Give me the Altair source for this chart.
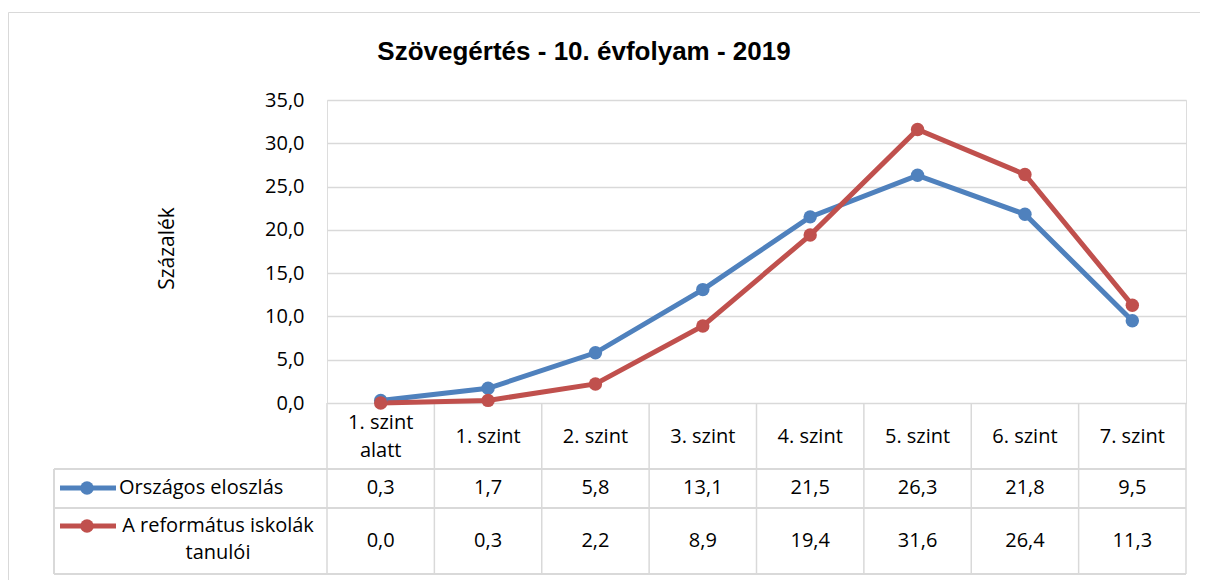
import altair as alt
import pandas as pd

# ---- data ----
levels = ["1. szint alatt", "1. szint", "2. szint", "3. szint",
          "4. szint", "5. szint", "6. szint", "7. szint"]
orszagos = [0.3, 1.7, 5.8, 13.1, 21.5, 26.3, 21.8, 9.5]
reformatus = [0.0, 0.3, 2.2, 8.9, 19.4, 31.6, 26.4, 11.3]
series_names = ["Országos eloszlás", "A református iskolák tanulói"]
series_labels = ["Országos eloszlás", "A református iskolák\ntanulói"]
series_colors = ["#4F81BD", "#C0504D"]
y_ticks = [0, 5, 10, 15, 20, 25, 30, 35]
title_text = "Szövegértés - 10. évfolyam - 2019"
y_title = "Százalék"

FONT = "Open Sans"
W, H = 859, 303
GRID = "#d9d9d9"

rows = []
for k, (s, vals) in enumerate(zip(series_names, [orszagos, reformatus])):
    for i, (lv, v) in enumerate(zip(levels, vals)):
        rows.append({"series": s, "order": k, "idx": i, "level": lv, "value": v})
df = pd.DataFrame(rows)

cat_labels = [l.replace(" alatt", "\nalatt") for l in levels]
cat_df = pd.DataFrame({"idx": list(range(len(levels))), "label": cat_labels})
cat_single = cat_df[~cat_df["label"].str.contains("\n")]
cat_multi = cat_df[cat_df["label"].str.contains("\n")]
bound_df = pd.DataFrame({"b": [i - 0.5 for i in range(len(levels) + 1)]})
one = pd.DataFrame({"t": [title_text]})

xscale = alt.Scale(domain=[-0.5, len(levels) - 0.5], nice=False, zero=False)
color = alt.Color("series:N", scale=alt.Scale(domain=series_names, range=series_colors), legend=None)

lines = alt.Chart(df).mark_line(strokeWidth=5, point=alt.OverlayMarkDef(size=180, filled=True, opacity=1)).encode(
    x=alt.X("idx:Q", scale=xscale, axis=None),
    y=alt.Y("value:Q", scale=alt.Scale(domain=[0, 35], nice=False),
            axis=alt.Axis(values=y_ticks, grid=True, gridColor=GRID, gridWidth=1.5,
                          domain=False, ticks=False, labelPadding=23,
                          labelFont=FONT, labelFontSize=20, labelColor="#000000",
                          labelExpr="replace(format(datum.value, '.1f'), '.', ',')",
                          title=y_title, titleFont=FONT, titleFontSize=21,
                          titleFontWeight="normal", titleColor="#000000",
                          titleAngle=270, titleX=-160, titleY=148,
                          titleAlign="center", titleBaseline="middle")),
    color=color,
    detail="series:N",
)

# table grid
def rule(**enc):
    return alt.Chart(bound_df).mark_rule(color=GRID, strokeWidth=1.5).encode(**enc)

vlines = rule(x=alt.X("b:Q", scale=xscale, axis=None), y=alt.value(H), y2=alt.value(474))
hl1 = rule(x=alt.value(-273), x2=alt.value(W), y=alt.value(369))
hl2 = rule(x=alt.value(-273), x2=alt.value(W), y=alt.value(408))
hl3 = rule(x=alt.value(-273), x2=alt.value(W), y=alt.value(474))
vl0 = rule(x=alt.value(-273), y=alt.value(369), y2=alt.value(474))

# outer frame
frame = alt.Chart(one).mark_rect(fill=None, stroke="#d9d9d9", strokeWidth=1).encode(
    x=alt.value(-318.5), x2=alt.value(W + 60), y=alt.value(-87.5), y2=alt.value(H + 250))

# chart title
title = alt.Chart(one).mark_text(font="Liberation Sans", fontSize=26, fontWeight="bold",
                                 color="#000000", align="center", baseline="alphabetic").encode(
    x=alt.value(257), y=alt.value(-40), text="t:N")

# category labels
cat_text1 = alt.Chart(cat_single).mark_text(font=FONT, fontSize=20, color="#000000",
                                            baseline="middle").encode(
    x=alt.X("idx:Q", scale=xscale, axis=None), y=alt.value(337), text="label:N")
cat_text2 = alt.Chart(cat_multi).mark_text(font=FONT, fontSize=20, color="#000000",
                                           lineBreak="\n", lineHeight=28, baseline="middle").encode(
    x=alt.X("idx:Q", scale=xscale, axis=None), y=alt.value(323), text="label:N")

layers = [frame, title, vlines, hl1, hl2, hl3, vl0, cat_text1, cat_text2]

row_y = [388, 441]
for k, s in enumerate(series_names):
    sub = alt.Chart(df[df["series"] == s]).transform_calculate(
        txt="replace(format(datum.value, '.1f'), '.', ',')")
    layers.append(sub.mark_text(font=FONT, fontSize=20, color="#000000", baseline="middle").encode(
        x=alt.X("idx:Q", scale=xscale, axis=None), y=alt.value(row_y[k]), text="txt:N"))

# legend keys inside table
key_y = [388, 426]
for k, s in enumerate(series_names):
    kd = pd.DataFrame({"series": [s]})
    layers.append(alt.Chart(kd).mark_rule(color=series_colors[k], strokeWidth=5).encode(
        x=alt.value(-267), x2=alt.value(-211), y=alt.value(key_y[k])))
    layers.append(alt.Chart(kd).mark_point(color=series_colors[k], filled=True, size=180, opacity=1).encode(
        x=alt.value(-240), y=alt.value(key_y[k])))

leg1 = alt.Chart(pd.DataFrame({"label": [series_labels[0]]})).mark_text(
    font=FONT, fontSize=20, color="#000000", align="left", baseline="middle").encode(
    x=alt.value(-208), y=alt.value(388), text="label:N")
leg2 = alt.Chart(pd.DataFrame({"label": [series_labels[1]]})).mark_text(
    font=FONT, fontSize=20, color="#000000", align="center", baseline="middle",
    lineBreak="\n", lineHeight=27).encode(
    x=alt.value(-109), y=alt.value(426), text="label:N")
layers += [leg1, leg2, lines]

chart = alt.layer(*layers).properties(
    width=W, height=H,
    autosize=alt.AutoSizeParams(type="none"),
    padding={"left": 319, "top": 92, "right": 14, "bottom": 177},
).configure_view(stroke=None).configure(background="white")

chart.save("out.html", embed_options={"renderer": "svg", "actions": False})
